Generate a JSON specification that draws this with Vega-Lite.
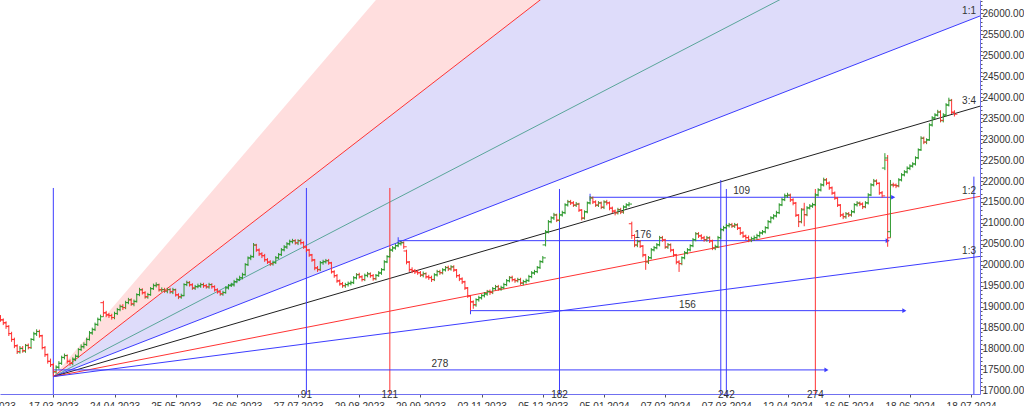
{
"$schema":"https://vega.github.io/schema/vega-lite/v6.json",
"width":980,"height":394,
"autosize":{"type":"none"},
"padding":{"left":0,"top":0,"right":44,"bottom":12},
"background":"#ffffff",
"config":{"view":{"stroke":null},"font":"Liberation Sans"},
"datasets":{
"fills":[
{"z":"p","x":0,"a":17330,"b":17330},{"z":"p","x":333.2,"a":34447,"b":43160},
{"z":"l","x":0,"a":17330,"b":17330},{"z":"l","x":333.2,"a":25940,"b":34447}],
"fan":[
{"r":"2:1","x0":0,"y0":17330,"x1":333.2,"y1":34447},
{"r":"4:3","x0":0,"y0":17330,"x1":333.2,"y1":28809},
{"r":"1:1","x0":0,"y0":17330,"x1":333.2,"y1":25940,"t":"1:1"},
{"r":"3:4","x0":0,"y0":17330,"x1":333.2,"y1":23787,"t":"3:4"},
{"r":"1:2","x0":0,"y0":17330,"x1":333.2,"y1":21635,"t":"1:2"},
{"r":"1:3","x0":0,"y0":17330,"x1":333.2,"y1":20200,"t":"1:3"}],
"verts":[
{"d":0,"top":21834,"lo":16915,"k":"b"},
{"d":91,"top":21834,"lo":16915,"k":"b","t":"91"},
{"d":121,"top":21834,"lo":16915,"k":"r","t":"121"},
{"d":182,"top":21810,"lo":16915,"k":"b","t":"182"},
{"d":240,"top":22025,"lo":16915,"k":"b"},
{"d":242,"top":21810,"lo":16915,"k":"b","t":"242"},
{"d":274,"top":21810,"lo":16915,"k":"r","t":"274"},
{"d":331,"top":22104,"lo":16915,"k":"b"}],
"arrows":[
{"s":0,"e":278,"m":139,"y":17490,"t":"278"},
{"s":150,"e":306,"m":228,"y":18905,"t":"156"},
{"s":124,"e":300,"m":212,"y":20576,"t":"176"},
{"s":193,"e":302,"m":247.5,"y":21612,"t":"109"}],
"bars":[
{"d":-19,"o":18760,"h":18800,"l":18640,"c":18690},
{"d":-18,"o":18680,"h":18720,"l":18560,"c":18620},
{"d":-17,"o":18610,"h":18650,"l":18470,"c":18525},
{"d":-16,"o":18530,"h":18560,"l":18300,"c":18355},
{"d":-15,"o":18360,"h":18400,"l":18160,"c":18215},
{"d":-14,"o":18220,"h":18260,"l":18010,"c":18070},
{"d":-13,"o":18060,"h":18100,"l":17870,"c":17930},
{"d":-12,"o":17920,"h":18060,"l":17880,"c":18000},
{"d":-11,"o":18010,"h":18060,"l":17900,"c":17950},
{"d":-10,"o":17940,"h":18110,"l":17900,"c":18070},
{"d":-9,"o":18080,"h":18120,"l":17980,"c":18025},
{"d":-8,"o":18020,"h":18250,"l":17990,"c":18215},
{"d":-7,"o":18220,"h":18400,"l":18180,"c":18355},
{"d":-6,"o":18350,"h":18460,"l":18300,"c":18405},
{"d":-5,"o":18410,"h":18450,"l":18260,"c":18310},
{"d":-4,"o":18300,"h":18330,"l":17980,"c":18025},
{"d":-3,"o":18020,"h":18060,"l":17800,"c":17860},
{"d":-2,"o":17850,"h":17880,"l":17640,"c":17690},
{"d":-1,"o":17700,"h":17760,"l":17560,"c":17620},
{"d":0,"o":17610,"h":17650,"l":17330,"c":17450},
{"d":1,"o":17440,"h":17600,"l":17400,"c":17550},
{"d":2,"o":17560,"h":17700,"l":17500,"c":17645},
{"d":3,"o":17650,"h":17830,"l":17610,"c":17785},
{"d":4,"o":17790,"h":17880,"l":17740,"c":17835},
{"d":5,"o":17830,"h":17860,"l":17640,"c":17690},
{"d":6,"o":17700,"h":17740,"l":17590,"c":17645},
{"d":7,"o":17640,"h":17790,"l":17600,"c":17740},
{"d":8,"o":17750,"h":17860,"l":17700,"c":17810},
{"d":9,"o":17820,"h":18010,"l":17780,"c":17975},
{"d":10,"o":17980,"h":18100,"l":17940,"c":18050},
{"d":11,"o":18040,"h":18150,"l":18000,"c":18095},
{"d":12,"o":18100,"h":18260,"l":18060,"c":18215},
{"d":13,"o":18220,"h":18420,"l":18190,"c":18380},
{"d":14,"o":18370,"h":18500,"l":18330,"c":18450},
{"d":15,"o":18460,"h":18620,"l":18420,"c":18570},
{"d":16,"o":18580,"h":18740,"l":18540,"c":18690},
{"d":17,"o":18700,"h":18810,"l":18650,"c":18760},
{"d":18,"o":19095,"h":19140,"l":18760,"c":18855},
{"d":19,"o":18850,"h":18900,"l":18750,"c":18810},
{"d":20,"o":18800,"h":18850,"l":18730,"c":18785},
{"d":21,"o":18790,"h":18830,"l":18690,"c":18740},
{"d":22,"o":18740,"h":18880,"l":18700,"c":18835},
{"d":23,"o":18840,"h":18970,"l":18800,"c":18930},
{"d":24,"o":18930,"h":19050,"l":18890,"c":19000},
{"d":25,"o":19010,"h":19060,"l":18920,"c":18975},
{"d":26,"o":18980,"h":19140,"l":18940,"c":19095},
{"d":27,"o":19100,"h":19210,"l":19060,"c":19165},
{"d":28,"o":19160,"h":19200,"l":19020,"c":19070},
{"d":29,"o":19060,"h":19170,"l":19010,"c":19120},
{"d":30,"o":19130,"h":19320,"l":19100,"c":19285},
{"d":31,"o":19290,"h":19450,"l":19250,"c":19405},
{"d":32,"o":19400,"h":19440,"l":19290,"c":19335},
{"d":33,"o":19330,"h":19370,"l":19190,"c":19240},
{"d":34,"o":19230,"h":19330,"l":19190,"c":19285},
{"d":35,"o":19290,"h":19470,"l":19260,"c":19430},
{"d":36,"o":19430,"h":19550,"l":19400,"c":19500},
{"d":37,"o":19510,"h":19580,"l":19460,"c":19525},
{"d":38,"o":19520,"h":19550,"l":19360,"c":19405},
{"d":39,"o":19400,"h":19460,"l":19350,"c":19405},
{"d":40,"o":19410,"h":19450,"l":19330,"c":19380},
{"d":41,"o":19370,"h":19450,"l":19320,"c":19405},
{"d":42,"o":19410,"h":19450,"l":19310,"c":19360},
{"d":43,"o":19350,"h":19450,"l":19300,"c":19405},
{"d":44,"o":19400,"h":19430,"l":19240,"c":19285},
{"d":45,"o":19280,"h":19320,"l":19180,"c":19240},
{"d":46,"o":19230,"h":19310,"l":19190,"c":19260},
{"d":47,"o":19270,"h":19560,"l":19250,"c":19525},
{"d":48,"o":19530,"h":19620,"l":19490,"c":19570},
{"d":49,"o":19580,"h":19610,"l":19480,"c":19525},
{"d":50,"o":19520,"h":19560,"l":19400,"c":19450},
{"d":51,"o":19440,"h":19520,"l":19400,"c":19475},
{"d":52,"o":19480,"h":19550,"l":19440,"c":19500},
{"d":53,"o":19490,"h":19570,"l":19450,"c":19525},
{"d":54,"o":19530,"h":19570,"l":19450,"c":19500},
{"d":55,"o":19500,"h":19540,"l":19430,"c":19475},
{"d":56,"o":19470,"h":19570,"l":19430,"c":19525},
{"d":57,"o":19530,"h":19560,"l":19430,"c":19475},
{"d":58,"o":19480,"h":19510,"l":19360,"c":19405},
{"d":59,"o":19400,"h":19440,"l":19310,"c":19360},
{"d":60,"o":19350,"h":19390,"l":19260,"c":19310},
{"d":61,"o":19300,"h":19380,"l":19260,"c":19335},
{"d":62,"o":19340,"h":19490,"l":19310,"c":19450},
{"d":63,"o":19450,"h":19540,"l":19410,"c":19500},
{"d":64,"o":19510,"h":19570,"l":19470,"c":19525},
{"d":65,"o":19520,"h":19640,"l":19480,"c":19595},
{"d":66,"o":19600,"h":19690,"l":19560,"c":19645},
{"d":67,"o":19650,"h":19740,"l":19610,"c":19690},
{"d":68,"o":19690,"h":19810,"l":19650,"c":19760},
{"d":69,"o":19770,"h":20040,"l":19740,"c":20000},
{"d":70,"o":20010,"h":20200,"l":19970,"c":20165},
{"d":71,"o":20160,"h":20240,"l":20110,"c":20190},
{"d":72,"o":20200,"h":20520,"l":20170,"c":20475},
{"d":73,"o":20470,"h":20500,"l":20310,"c":20355},
{"d":74,"o":20350,"h":20390,"l":20210,"c":20260},
{"d":75,"o":20260,"h":20300,"l":20160,"c":20215},
{"d":76,"o":20220,"h":20260,"l":20070,"c":20120},
{"d":77,"o":20120,"h":20160,"l":20020,"c":20070},
{"d":78,"o":20060,"h":20110,"l":19970,"c":20025},
{"d":79,"o":20020,"h":20100,"l":19980,"c":20050},
{"d":80,"o":20060,"h":20210,"l":20020,"c":20165},
{"d":81,"o":20170,"h":20280,"l":20130,"c":20240},
{"d":82,"o":20250,"h":20400,"l":20210,"c":20355},
{"d":83,"o":20360,"h":20470,"l":20320,"c":20430},
{"d":84,"o":20420,"h":20540,"l":20380,"c":20500},
{"d":85,"o":20500,"h":20600,"l":20460,"c":20550},
{"d":86,"o":20560,"h":20620,"l":20510,"c":20570},
{"d":87,"o":20580,"h":20610,"l":20480,"c":20525},
{"d":88,"o":20520,"h":20610,"l":20470,"c":20570},
{"d":89,"o":20580,"h":20620,"l":20480,"c":20525},
{"d":90,"o":20530,"h":20560,"l":20380,"c":20430},
{"d":91,"o":20420,"h":20460,"l":20300,"c":20355},
{"d":92,"o":20350,"h":20380,"l":20190,"c":20240},
{"d":93,"o":20230,"h":20260,"l":20070,"c":20120},
{"d":94,"o":20110,"h":20140,"l":19870,"c":19930},
{"d":95,"o":19920,"h":19970,"l":19830,"c":19880},
{"d":96,"o":19890,"h":20090,"l":19850,"c":20050},
{"d":97,"o":20050,"h":20120,"l":20000,"c":20070},
{"d":98,"o":20080,"h":20140,"l":20030,"c":20095},
{"d":99,"o":20100,"h":20140,"l":20000,"c":20050},
{"d":100,"o":20040,"h":20070,"l":19790,"c":19835},
{"d":101,"o":19830,"h":19870,"l":19690,"c":19740},
{"d":102,"o":19740,"h":19780,"l":19570,"c":19620},
{"d":103,"o":19610,"h":19650,"l":19500,"c":19550},
{"d":104,"o":19540,"h":19590,"l":19450,"c":19500},
{"d":105,"o":19500,"h":19570,"l":19450,"c":19525},
{"d":106,"o":19530,"h":19600,"l":19480,"c":19550},
{"d":107,"o":19560,"h":19620,"l":19510,"c":19570},
{"d":108,"o":19580,"h":19730,"l":19540,"c":19690},
{"d":109,"o":19690,"h":19800,"l":19650,"c":19760},
{"d":110,"o":19770,"h":19810,"l":19670,"c":19715},
{"d":111,"o":19710,"h":19750,"l":19600,"c":19645},
{"d":112,"o":19650,"h":19790,"l":19610,"c":19740},
{"d":113,"o":19750,"h":19830,"l":19700,"c":19785},
{"d":114,"o":19780,"h":19820,"l":19690,"c":19740},
{"d":115,"o":19740,"h":19780,"l":19620,"c":19665},
{"d":116,"o":19670,"h":19780,"l":19630,"c":19740},
{"d":117,"o":19750,"h":19850,"l":19710,"c":19810},
{"d":118,"o":19800,"h":19920,"l":19760,"c":19880},
{"d":119,"o":19890,"h":20110,"l":19860,"c":20070},
{"d":120,"o":20070,"h":20230,"l":20040,"c":20190},
{"d":121,"o":20200,"h":20400,"l":20170,"c":20355},
{"d":122,"o":20350,"h":20450,"l":20310,"c":20405},
{"d":123,"o":20400,"h":20500,"l":20360,"c":20450},
{"d":124,"o":20460,"h":20550,"l":20420,"c":20500},
{"d":125,"o":20510,"h":20570,"l":20460,"c":20525},
{"d":126,"o":20530,"h":20560,"l":20380,"c":20430},
{"d":127,"o":20330,"h":20360,"l":20010,"c":20070},
{"d":128,"o":20060,"h":20090,"l":19830,"c":19880},
{"d":129,"o":19890,"h":19940,"l":19800,"c":19855},
{"d":130,"o":19860,"h":19900,"l":19780,"c":19835},
{"d":131,"o":19830,"h":19880,"l":19760,"c":19810},
{"d":132,"o":19810,"h":19850,"l":19710,"c":19760},
{"d":133,"o":19750,"h":19840,"l":19700,"c":19785},
{"d":134,"o":19790,"h":19820,"l":19670,"c":19715},
{"d":135,"o":19710,"h":19760,"l":19640,"c":19690},
{"d":136,"o":19700,"h":19740,"l":19590,"c":19645},
{"d":137,"o":19650,"h":19800,"l":19610,"c":19760},
{"d":138,"o":19760,"h":19880,"l":19720,"c":19835},
{"d":139,"o":19840,"h":19880,"l":19760,"c":19810},
{"d":140,"o":19810,"h":19920,"l":19770,"c":19880},
{"d":141,"o":19880,"h":19970,"l":19840,"c":19930},
{"d":142,"o":19940,"h":19980,"l":19850,"c":19905},
{"d":143,"o":19900,"h":19990,"l":19860,"c":19950},
{"d":144,"o":19950,"h":19990,"l":19830,"c":19880},
{"d":145,"o":19870,"h":19900,"l":19690,"c":19740},
{"d":146,"o":19740,"h":19780,"l":19610,"c":19665},
{"d":147,"o":19660,"h":19700,"l":19540,"c":19595},
{"d":148,"o":19590,"h":19620,"l":19400,"c":19450},
{"d":149,"o":19440,"h":19470,"l":19210,"c":19260},
{"d":150,"o":19250,"h":19280,"l":18905,"c":19120},
{"d":151,"o":19110,"h":19150,"l":18950,"c":19050},
{"d":152,"o":19040,"h":19200,"l":19000,"c":19165},
{"d":153,"o":19170,"h":19260,"l":19120,"c":19215},
{"d":154,"o":19210,"h":19300,"l":19170,"c":19260},
{"d":155,"o":19270,"h":19350,"l":19220,"c":19310},
{"d":156,"o":19300,"h":19400,"l":19260,"c":19360},
{"d":157,"o":19370,"h":19410,"l":19280,"c":19335},
{"d":158,"o":19340,"h":19470,"l":19300,"c":19430},
{"d":159,"o":19430,"h":19520,"l":19390,"c":19475},
{"d":160,"o":19480,"h":19520,"l":19380,"c":19430},
{"d":161,"o":19420,"h":19500,"l":19380,"c":19450},
{"d":162,"o":19460,"h":19570,"l":19420,"c":19525},
{"d":163,"o":19530,"h":19660,"l":19490,"c":19620},
{"d":164,"o":19620,"h":19730,"l":19580,"c":19690},
{"d":165,"o":19700,"h":19740,"l":19600,"c":19645},
{"d":166,"o":19640,"h":19680,"l":19570,"c":19620},
{"d":167,"o":19620,"h":19690,"l":19580,"c":19645},
{"d":168,"o":19650,"h":19690,"l":19520,"c":19570},
{"d":169,"o":19560,"h":19640,"l":19510,"c":19595},
{"d":170,"o":19600,"h":19670,"l":19550,"c":19620},
{"d":171,"o":19630,"h":19760,"l":19590,"c":19715},
{"d":172,"o":19720,"h":19850,"l":19680,"c":19810},
{"d":173,"o":19800,"h":19880,"l":19760,"c":19835},
{"d":174,"o":19840,"h":19970,"l":19800,"c":19930},
{"d":175,"o":19940,"h":20110,"l":19900,"c":20070},
{"d":176,"o":20080,"h":20210,"l":20040,"c":20165},
{"d":177,"o":20475,"h":20830,"l":20440,"c":20785},
{"d":178,"o":20790,"h":21070,"l":20750,"c":21025},
{"d":179,"o":21030,"h":21160,"l":20990,"c":21120},
{"d":180,"o":21120,"h":21240,"l":21070,"c":21190},
{"d":181,"o":21190,"h":21220,"l":21020,"c":21070},
{"d":182,"o":21060,"h":21230,"l":21020,"c":21190},
{"d":183,"o":21190,"h":21290,"l":21150,"c":21240},
{"d":184,"o":21250,"h":21470,"l":21210,"c":21430},
{"d":185,"o":21430,"h":21550,"l":21390,"c":21500},
{"d":186,"o":21510,"h":21550,"l":21430,"c":21475},
{"d":187,"o":21480,"h":21520,"l":21380,"c":21430},
{"d":188,"o":21420,"h":21500,"l":21380,"c":21450},
{"d":189,"o":21450,"h":21480,"l":21260,"c":21310},
{"d":190,"o":21300,"h":21330,"l":21060,"c":21120},
{"d":191,"o":21110,"h":21300,"l":21080,"c":21260},
{"d":192,"o":21270,"h":21510,"l":21230,"c":21475},
{"d":193,"o":21480,"h":21640,"l":21440,"c":21595},
{"d":194,"o":21600,"h":21630,"l":21450,"c":21500},
{"d":195,"o":21500,"h":21540,"l":21380,"c":21430},
{"d":196,"o":21420,"h":21520,"l":21380,"c":21475},
{"d":197,"o":21480,"h":21510,"l":21330,"c":21380},
{"d":198,"o":21370,"h":21540,"l":21330,"c":21500},
{"d":199,"o":21500,"h":21550,"l":21420,"c":21475},
{"d":200,"o":21480,"h":21510,"l":21300,"c":21355},
{"d":201,"o":21350,"h":21390,"l":21230,"c":21285},
{"d":202,"o":21280,"h":21320,"l":21180,"c":21240},
{"d":203,"o":21240,"h":21360,"l":21200,"c":21310},
{"d":204,"o":21320,"h":21360,"l":21210,"c":21260},
{"d":205,"o":21260,"h":21420,"l":21220,"c":21380},
{"d":206,"o":21380,"h":21470,"l":21340,"c":21430},
{"d":207,"o":21430,"h":21500,"l":21390,"c":21450},
{"d":208,"o":20980,"h":21030,"l":20620,"c":20700},
{"d":209,"o":20700,"h":20730,"l":20420,"c":20475},
{"d":210,"o":20470,"h":20600,"l":20420,"c":20550},
{"d":211,"o":20560,"h":20590,"l":20400,"c":20450},
{"d":212,"o":20440,"h":20470,"l":20180,"c":20240},
{"d":213,"o":20230,"h":20260,"l":19880,"c":20070},
{"d":214,"o":20070,"h":20210,"l":20020,"c":20165},
{"d":215,"o":20170,"h":20400,"l":20130,"c":20355},
{"d":216,"o":20360,"h":20450,"l":20320,"c":20405},
{"d":217,"o":20410,"h":20520,"l":20370,"c":20475},
{"d":218,"o":20480,"h":20690,"l":20440,"c":20645},
{"d":219,"o":20650,"h":20690,"l":20550,"c":20595},
{"d":220,"o":20590,"h":20620,"l":20380,"c":20430},
{"d":221,"o":20420,"h":20520,"l":20380,"c":20475},
{"d":222,"o":20480,"h":20510,"l":20300,"c":20355},
{"d":223,"o":20350,"h":20380,"l":20190,"c":20240},
{"d":224,"o":20230,"h":20260,"l":20010,"c":20070},
{"d":225,"o":20060,"h":20110,"l":19830,"c":20025},
{"d":226,"o":20030,"h":20200,"l":19990,"c":20165},
{"d":227,"o":20170,"h":20330,"l":20130,"c":20285},
{"d":228,"o":20290,"h":20400,"l":20250,"c":20355},
{"d":229,"o":20360,"h":20490,"l":20320,"c":20450},
{"d":230,"o":20460,"h":20640,"l":20420,"c":20595},
{"d":231,"o":20600,"h":20780,"l":20560,"c":20740},
{"d":232,"o":20740,"h":20780,"l":20640,"c":20690},
{"d":233,"o":20690,"h":20730,"l":20600,"c":20645},
{"d":234,"o":20640,"h":20690,"l":20550,"c":20595},
{"d":235,"o":20600,"h":20690,"l":20550,"c":20645},
{"d":236,"o":20640,"h":20680,"l":20520,"c":20570},
{"d":237,"o":20570,"h":20600,"l":20350,"c":20405},
{"d":238,"o":20400,"h":20480,"l":20350,"c":20430},
{"d":239,"o":20440,"h":20690,"l":20400,"c":20645},
{"d":240,"o":20650,"h":20880,"l":20610,"c":20835},
{"d":241,"o":20840,"h":20930,"l":20800,"c":20880},
{"d":242,"o":20890,"h":20980,"l":20850,"c":20930},
{"d":243,"o":20940,"h":21000,"l":20890,"c":20955},
{"d":244,"o":20960,"h":21000,"l":20880,"c":20930},
{"d":245,"o":20920,"h":21000,"l":20880,"c":20955},
{"d":246,"o":20950,"h":20990,"l":20830,"c":20880},
{"d":247,"o":20870,"h":20900,"l":20710,"c":20760},
{"d":248,"o":20760,"h":20800,"l":20640,"c":20690},
{"d":249,"o":20680,"h":20720,"l":20590,"c":20645},
{"d":250,"o":20650,"h":20700,"l":20540,"c":20595},
{"d":251,"o":20590,"h":20670,"l":20540,"c":20620},
{"d":252,"o":20620,"h":20700,"l":20570,"c":20645},
{"d":253,"o":20650,"h":20740,"l":20600,"c":20690},
{"d":254,"o":20700,"h":20800,"l":20650,"c":20760},
{"d":255,"o":20760,"h":20830,"l":20720,"c":20785},
{"d":256,"o":20790,"h":20920,"l":20750,"c":20880},
{"d":257,"o":20890,"h":21070,"l":20850,"c":21025},
{"d":258,"o":21030,"h":21160,"l":20990,"c":21120},
{"d":259,"o":21120,"h":21210,"l":21080,"c":21165},
{"d":260,"o":21170,"h":21290,"l":21130,"c":21240},
{"d":261,"o":21250,"h":21470,"l":21210,"c":21430},
{"d":262,"o":21430,"h":21600,"l":21400,"c":21550},
{"d":263,"o":21560,"h":21700,"l":21520,"c":21645},
{"d":264,"o":21650,"h":21720,"l":21600,"c":21665},
{"d":265,"o":21660,"h":21700,"l":21500,"c":21550},
{"d":266,"o":21550,"h":21590,"l":21420,"c":21475},
{"d":267,"o":21470,"h":21500,"l":21140,"c":21190},
{"d":268,"o":21180,"h":21210,"l":20900,"c":21025},
{"d":269,"o":21030,"h":21350,"l":20990,"c":21310},
{"d":270,"o":21330,"h":21480,"l":20920,"c":21190},
{"d":271,"o":21200,"h":21400,"l":21160,"c":21355},
{"d":272,"o":21360,"h":21450,"l":21320,"c":21405},
{"d":273,"o":21400,"h":21480,"l":21360,"c":21430},
{"d":274,"o":21440,"h":21710,"l":21400,"c":21665},
{"d":275,"o":21670,"h":21830,"l":21630,"c":21785},
{"d":276,"o":21790,"h":21950,"l":21750,"c":21905},
{"d":277,"o":21910,"h":22080,"l":21870,"c":22025},
{"d":278,"o":22030,"h":22070,"l":21900,"c":21950},
{"d":279,"o":21950,"h":21990,"l":21790,"c":21835},
{"d":280,"o":21840,"h":21870,"l":21670,"c":21715},
{"d":281,"o":21710,"h":21750,"l":21550,"c":21595},
{"d":282,"o":21590,"h":21620,"l":21380,"c":21430},
{"d":283,"o":21420,"h":21450,"l":21140,"c":21190},
{"d":284,"o":21190,"h":21240,"l":21090,"c":21145},
{"d":285,"o":21150,"h":21260,"l":21100,"c":21215},
{"d":286,"o":21220,"h":21260,"l":21140,"c":21190},
{"d":287,"o":21190,"h":21310,"l":21150,"c":21260},
{"d":288,"o":21270,"h":21470,"l":21230,"c":21430},
{"d":289,"o":21440,"h":21520,"l":21390,"c":21475},
{"d":290,"o":21470,"h":21510,"l":21400,"c":21450},
{"d":291,"o":21450,"h":21490,"l":21330,"c":21380},
{"d":292,"o":21390,"h":21520,"l":21350,"c":21475},
{"d":293,"o":21480,"h":21710,"l":21440,"c":21665},
{"d":294,"o":21670,"h":21950,"l":21640,"c":21905},
{"d":295,"o":21910,"h":22050,"l":21870,"c":22000},
{"d":296,"o":22000,"h":22040,"l":21900,"c":21950},
{"d":297,"o":21940,"h":21970,"l":21670,"c":21715},
{"d":298,"o":21720,"h":21760,"l":21600,"c":21645},
{"d":299,"o":22310,"h":22665,"l":22260,"c":22550},
{"d":300,"o":22500,"h":22620,"l":20430,"c":20645},
{"d":301,"o":20790,"h":22025,"l":20645,"c":21905},
{"d":302,"o":21910,"h":21960,"l":21850,"c":21905},
{"d":303,"o":21900,"h":21940,"l":21830,"c":21880},
{"d":304,"o":21890,"h":22070,"l":21850,"c":22025},
{"d":305,"o":22030,"h":22190,"l":21990,"c":22145},
{"d":306,"o":22150,"h":22260,"l":22110,"c":22215},
{"d":307,"o":22220,"h":22350,"l":22180,"c":22310},
{"d":308,"o":22300,"h":22400,"l":22260,"c":22355},
{"d":309,"o":22360,"h":22450,"l":22320,"c":22405},
{"d":310,"o":22410,"h":22590,"l":22370,"c":22550},
{"d":311,"o":22560,"h":22780,"l":22520,"c":22740},
{"d":312,"o":22750,"h":23070,"l":22720,"c":23025},
{"d":313,"o":23020,"h":23060,"l":22880,"c":22930},
{"d":314,"o":22930,"h":23020,"l":22880,"c":22975},
{"d":315,"o":22990,"h":23380,"l":22960,"c":23335},
{"d":316,"o":23340,"h":23550,"l":23300,"c":23500},
{"d":317,"o":23510,"h":23620,"l":23470,"c":23570},
{"d":318,"o":23580,"h":23700,"l":23540,"c":23645},
{"d":319,"o":23650,"h":23690,"l":23400,"c":23450},
{"d":320,"o":23440,"h":23620,"l":23400,"c":23570},
{"d":321,"o":23580,"h":23860,"l":23540,"c":23810},
{"d":322,"o":23820,"h":23990,"l":23780,"c":23930},
{"d":323,"o":23920,"h":23960,"l":23600,"c":23645},
{"d":324,"o":23640,"h":23690,"l":23540,"c":23595}]
},
"layer":[
{"data":{"name":"fills"},"mark":{"type":"area","clip":true,"interpolate":"linear"},
 "encoding":{
  "x":{"field":"x","type":"quantitative","title":null,"scale":{"domain":[-19.17,333.2],"nice":false,"zero":false},
   "axis":{"title":null,"grid":false,"values":[-19.1,0,22,44,66,88,110,132,154,176,198,220,242,264,286,308,330],
    "labelExpr":"['14.02.2023','17.03.2023','24.04.2023','25.05.2023','26.06.2023','27.07.2023','29.08.2023','29.09.2023','02.11.2023','05.12.2023','05.01.2024','07.02.2024','07.03.2024','12.04.2024','16.05.2024','18.06.2024','18.07.2024'][indexof([-19.1,0,22,44,66,88,110,132,154,176,198,220,242,264,286,308,330],datum.value)]",
    "labelOffset":{"condition":{"test":"datum.value < -19","value":-10},"value":0},
    "tickOpacity":{"condition":{"test":"datum.value < -19","value":0},"value":1},
    "domainColor":"#7070f0","domainWidth":1,"tickColor":"#555555","tickSize":3,"labelPadding":4,"labelFontSize":10,"labelFont":"Liberation Sans","labelColor":"#333333","labelOverlap":false,"labelFlush":false,"labelBound":false}},
  "y":{"field":"a","type":"quantitative","title":null,"scale":{"domain":[16915,26322],"nice":false,"zero":false},
   "axis":{"title":null,"grid":false,"orient":"right","tickCount":94,
    "labelExpr":"datum.value % 500 === 0 ? format(datum.value, '.2f') : ''",
    "tickSize":{"condition":{"test":"datum.value % 500 === 0","value":3},"value":2},
    "labelPadding":-1,"labelFontSize":10,"labelFont":"Liberation Sans","labelColor":"#333333","domainColor":"#7070f0","tickColor":"#555555","labelOverlap":false,"labelFlush":false}},
  "y2":{"field":"b"},
  "fill":{"field":"z","type":"nominal","scale":{"domain":["p","l"],"range":["#ffdede","#dedcfa"]},"legend":null}}},
{"data":{"name":"fan"},"mark":{"type":"rule","clip":true,"strokeWidth":1},
 "encoding":{
  "x":{"field":"x0","type":"quantitative","title":null,"scale":{"domain":[-19.17,333.2],"nice":false,"zero":false}},
  "y":{"field":"y0","type":"quantitative","title":null,"scale":{"domain":[16915,26322],"nice":false,"zero":false}},
  "x2":{"field":"x1"},"y2":{"field":"y1"},
  "stroke":{"field":"r","type":"nominal","scale":{"domain":["2:1","4:3","1:1","3:4","1:2","1:3","b","r"],"range":["#ff3333","#5aa59a","#3c3cff","#202020","#ff3333","#3c3cff","#3c3cff","#ff3333"]},"legend":null}}},
{"data":{"name":"verts"},"mark":{"type":"rule","strokeWidth":1},
 "encoding":{
  "x":{"field":"d","type":"quantitative","title":null,"scale":{"domain":[-19.17,333.2],"nice":false,"zero":false}},
  "y":{"field":"top","type":"quantitative","title":null,"scale":{"domain":[16915,26322],"nice":false,"zero":false}},
  "y2":{"field":"lo"},
  "stroke":{"field":"k","type":"nominal","scale":{"domain":["2:1","4:3","1:1","3:4","1:2","1:3","b","r"],"range":["#ff3333","#5aa59a","#3c3cff","#202020","#ff3333","#3c3cff","#3c3cff","#ff3333"]},"legend":null}}},
{"data":{"name":"arrows"},"mark":{"type":"rule","strokeWidth":1,"color":"#3c3cff"},
 "encoding":{
  "x":{"field":"s","type":"quantitative","title":null,"scale":{"domain":[-19.17,333.2],"nice":false,"zero":false}},
  "x2":{"field":"e"},
  "y":{"field":"y","type":"quantitative","title":null,"scale":{"domain":[16915,26322],"nice":false,"zero":false}}}},
{"data":{"name":"arrows"},"mark":{"type":"point","shape":"triangle-right","filled":true,"size":22,"color":"#3c3cff","opacity":1},
 "encoding":{
  "x":{"field":"e","type":"quantitative","title":null,"scale":{"domain":[-19.17,333.2],"nice":false,"zero":false}},
  "y":{"field":"y","type":"quantitative","title":null,"scale":{"domain":[16915,26322],"nice":false,"zero":false}}}},
{"data":{"name":"arrows"},"mark":{"type":"tick","orient":"vertical","size":7,"thickness":1,"color":"#3c3cff","opacity":1},
 "encoding":{
  "x":{"field":"s","type":"quantitative","title":null,"scale":{"domain":[-19.17,333.2],"nice":false,"zero":false}},
  "y":{"field":"y","type":"quantitative","title":null,"scale":{"domain":[16915,26322],"nice":false,"zero":false}}}},
{"data":{"name":"bars"},"mark":{"type":"rule","strokeWidth":1},
 "encoding":{
  "x":{"field":"d","type":"quantitative","title":null,"scale":{"domain":[-19.17,333.2],"nice":false,"zero":false}},
  "y":{"field":"l","type":"quantitative","title":null,"scale":{"domain":[16915,26322],"nice":false,"zero":false}},
  "y2":{"field":"h"},
  "color":{"condition":{"test":"datum.c >= datum.o","value":"#2f9a2f"},"value":"#ff3030"}}},
{"data":{"name":"bars"},"mark":{"type":"tick","orient":"horizontal","size":3,"thickness":1,"xOffset":-1.5,"opacity":1},
 "encoding":{
  "x":{"field":"d","type":"quantitative","title":null,"scale":{"domain":[-19.17,333.2],"nice":false,"zero":false}},
  "y":{"field":"o","type":"quantitative","title":null,"scale":{"domain":[16915,26322],"nice":false,"zero":false}},
  "color":{"condition":{"test":"datum.c >= datum.o","value":"#2f9a2f"},"value":"#ff3030"}}},
{"data":{"name":"bars"},"mark":{"type":"tick","orient":"horizontal","size":3,"thickness":1,"xOffset":1.5,"opacity":1},
 "encoding":{
  "x":{"field":"d","type":"quantitative","title":null,"scale":{"domain":[-19.17,333.2],"nice":false,"zero":false}},
  "y":{"field":"c","type":"quantitative","title":null,"scale":{"domain":[16915,26322],"nice":false,"zero":false}},
  "color":{"condition":{"test":"datum.c >= datum.o","value":"#2f9a2f"},"value":"#ff3030"}}},
{"data":{"name":"verts"},"transform":[{"filter":"isValid(datum.t)"}],
 "mark":{"type":"text","fontSize":10,"font":"Liberation Sans","color":"#333333","baseline":"middle","dy":1},
 "encoding":{
  "x":{"field":"d","type":"quantitative","title":null,"scale":{"domain":[-19.17,333.2],"nice":false,"zero":false}},
  "y":{"field":"lo","type":"quantitative","title":null,"scale":{"domain":[16915,26322],"nice":false,"zero":false}},
  "text":{"field":"t"}}},
{"data":{"name":"arrows"},
 "mark":{"type":"text","fontSize":10,"font":"Liberation Sans","color":"#333333","baseline":"bottom","dy":-1},
 "encoding":{
  "x":{"field":"m","type":"quantitative","title":null,"scale":{"domain":[-19.17,333.2],"nice":false,"zero":false}},
  "y":{"field":"y","type":"quantitative","title":null,"scale":{"domain":[16915,26322],"nice":false,"zero":false}},
  "text":{"field":"t"}}},
{"data":{"name":"fan"},"transform":[{"filter":"isValid(datum.t)"}],
 "mark":{"type":"text","fontSize":10,"font":"Liberation Sans","color":"#333333","align":"right","baseline":"bottom","dx":-4,"dy":0},
 "encoding":{
  "x":{"field":"x1","type":"quantitative","title":null,"scale":{"domain":[-19.17,333.2],"nice":false,"zero":false}},
  "y":{"field":"y1","type":"quantitative","title":null,"scale":{"domain":[16915,26322],"nice":false,"zero":false}},
  "text":{"field":"t"}}}
]
}
